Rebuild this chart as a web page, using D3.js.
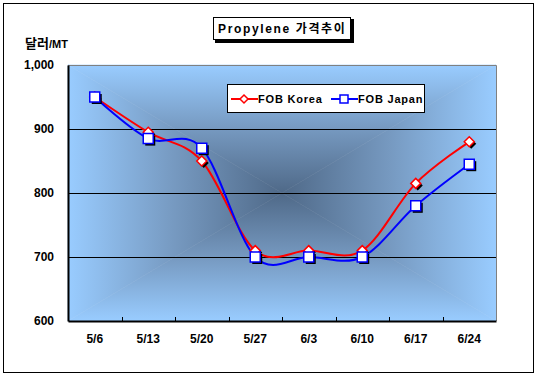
<!DOCTYPE html>
<html>
<head>
<meta charset="utf-8">
<script src="https://cdn.jsdelivr.net/npm/d3@7"></script>
<style>
  body { margin: 0; background: #fff; }
  svg text { font-family: "Liberation Sans", Arial, "Noto Sans CJK KR", sans-serif; font-weight: bold; }
</style>
</head>
<body>
<svg id="chart" width="537" height="376"></svg>
<script>
// 데이터
const weeks = ['5/6', '5/13', '5/20', '5/27', '6/3', '6/10', '6/17', '6/24']
const fobKorea = [950, 895, 850, 710, 710, 710, 815, 880]
const fobJapan = [950, 885, 870, 700, 700, 700, 780, 845]
const yTicks = [600, 700, 800, 900, 1000]

const svg = d3.select('#chart')
const plot = { x0: 68, x1: 496, y0: 65, y1: 321 }

// 바깥 테두리
svg.append('rect')
  .attr('x', 3.5).attr('y', 3.5)
  .attr('width', 530).attr('height', 369)
  .attr('fill', '#fff').attr('stroke', '#000').attr('stroke-width', 1)

const x = d3.scaleBand().domain(weeks).range([plot.x0, plot.x1])
const y = d3.scaleLinear().domain([600, 1000]).range([plot.y1, plot.y0])
const cx = d => x(d) + x.bandwidth() / 2

// 플롯 영역 배경 - 가운데에서 바깥으로 (사각형 그라디언트)
const defs = svg.append('defs')
const mx = (plot.x0 + plot.x1) / 2, my = (plot.y0 + plot.y1) / 2
const tris = [
  { id: 'gT', pts: [[plot.x0, plot.y0], [plot.x1, plot.y0], [mx, my]], g: [0, plot.y0, 0, my] },
  { id: 'gB', pts: [[plot.x0, plot.y1], [plot.x1, plot.y1], [mx, my]], g: [0, plot.y1, 0, my] },
  { id: 'gL', pts: [[plot.x0, plot.y0], [plot.x0, plot.y1], [mx, my]], g: [plot.x0, 0, mx, 0] },
  { id: 'gR', pts: [[plot.x1, plot.y0], [plot.x1, plot.y1], [mx, my]], g: [plot.x1, 0, mx, 0] }
]
tris.forEach(t => {
  const lg = defs.append('linearGradient').attr('id', t.id)
    .attr('gradientUnits', 'userSpaceOnUse')
    .attr('x1', t.g[0]).attr('y1', t.g[1]).attr('x2', t.g[2]).attr('y2', t.g[3])
  lg.append('stop').attr('offset', 0).attr('stop-color', '#99ccff')
  lg.append('stop').attr('offset', 0.5).attr('stop-color', '#7699c0')
  lg.append('stop').attr('offset', 1).attr('stop-color', '#4f6988')
})
svg.append('g').selectAll('polygon').data(tris).join('polygon')
  .attr('points', d => d.pts.map(p => p.join(',')).join(' '))
  .attr('fill', d => `url(#${d.id})`)
  .attr('stroke', d => `url(#${d.id})`).attr('stroke-width', 0.6)

// 격자선
svg.append('g').selectAll('line').data(yTicks.filter(v => v > 600 && v < 1000)).join('line')
  .attr('x1', plot.x0).attr('x2', plot.x1)
  .attr('y1', d => Math.round(y(d)) + 0.5).attr('y2', d => Math.round(y(d)) + 0.5)
  .attr('stroke', '#000').attr('stroke-width', 1)

// 플롯 테두리
svg.append('path')
  .attr('d', `M${plot.x0},${plot.y0 + 0.5}H${plot.x1 + 0.5}V${plot.y1}`)
  .attr('fill', 'none').attr('stroke', '#808080').attr('stroke-width', 1)

// 축
const yAxis = svg.append('g').attr('transform', `translate(${plot.x0},0)`)
  .call(d3.axisLeft(y).tickValues(yTicks).tickSize(0).tickPadding(14).tickFormat(d3.format(',')))
yAxis.select('.domain').attr('stroke', '#000').attr('stroke-width', 2)
yAxis.selectAll('text').attr('font-size', 12).attr('fill', '#000')

const xAxis = svg.append('g').attr('transform', `translate(0,${plot.y1})`)
  .call(d3.axisBottom(x).tickSize(0).tickPadding(13))
xAxis.select('.domain').attr('stroke', '#000').attr('stroke-width', 2)
xAxis.selectAll('text').attr('font-size', 12).attr('fill', '#000')
// 카테고리 사이 눈금
svg.append('g').selectAll('line').data(weeks.slice(1)).join('line')
  .attr('x1', d => Math.round(x(d)) + 0.5).attr('x2', d => Math.round(x(d)) + 0.5)
  .attr('y1', plot.y1 - 4).attr('y2', plot.y1)
  .attr('stroke', '#000')

// 선
const line = d3.line().x(d => cx(d.w)).y(d => y(d.v)).curve(d3.curveCardinal.tension(0))
const series = [
  { name: 'FOB Korea', vals: fobKorea, color: '#ff0000', shape: 'diamond' },
  { name: 'FOB Japan', vals: fobJapan, color: '#0000ff', shape: 'square' }
]
series.forEach(s => {
  const pts = weeks.map((w, i) => ({ w, v: s.vals[i] }))
  svg.append('path').datum(pts)
    .attr('d', line).attr('fill', 'none')
    .attr('stroke', s.color).attr('stroke-width', 2)
})

// 마커 (그림자 포함)
const markerPath = (shape, px, py) => {
  if (shape === 'diamond') return `M${px},${py - 5}L${px + 5},${py}L${px},${py + 5}L${px - 5},${py}Z`
  return `M${px - 5},${py - 5}h10v10h-10Z`
}
series.forEach(s => {
  const g = svg.append('g')
  const pts = weeks.map((w, i) => ({ w, v: s.vals[i] }))
  g.selectAll('path.shadow').data(pts).join('path').attr('class', 'shadow')
    .attr('d', d => markerPath(s.shape, cx(d.w) + 2, y(d.v) + 2))
    .attr('fill', '#000')
  g.selectAll('path.mk').data(pts).join('path').attr('class', 'mk')
    .attr('d', d => markerPath(s.shape, cx(d.w), y(d.v)))
    .attr('fill', '#fff').attr('stroke', s.color).attr('stroke-width', 1.5)
})

// 범례
const lg = svg.append('g')
lg.append('rect').attr('x', 227.5).attr('y', 84.5).attr('width', 197).attr('height', 28)
  .attr('fill', '#fff').attr('stroke', '#000')
const lItems = lg.selectAll('g.item').data(series).join('g').attr('class', 'item')
  .attr('transform', (d, i) => `translate(${231 + i * 100},${99})`)
lItems.append('line').attr('x1', 0).attr('x2', 27).attr('stroke', d => d.color).attr('stroke-width', 2)
lItems.append('path').attr('d', d => d.shape === 'diamond'
    ? 'M13,-4L17,0L13,4L9,0Z' : 'M9,-4h8v8h-8Z')
  .attr('fill', '#fff').attr('stroke', d => d.color).attr('stroke-width', 1.5)
lItems.append('text').attr('x', 27).attr('dy', '0.35em')
  .attr('font-size', 11).attr('letter-spacing', 0.8).text(d => d.name)

// 제목
svg.append('rect').attr('x', 215).attr('y', 19).attr('width', 139).attr('height', 24).attr('fill', '#000')
svg.append('rect').attr('x', 213.5).attr('y', 17.5).attr('width', 137).attr('height', 22)
  .attr('fill', '#fff').attr('stroke', '#000')
svg.append('text').attr('x', 218).attr('y', 33)
  .attr('font-size', 12).attr('letter-spacing', 1.2).attr('textLength', 128)
  .text('Propylene 가격추이')

// 단위
svg.append('text').attr('x', 25).attr('y', 48).attr('font-size', 13).text('달러')
  .append('tspan').attr('font-size', 11).text('/MT')
</script>
</body>
</html>
